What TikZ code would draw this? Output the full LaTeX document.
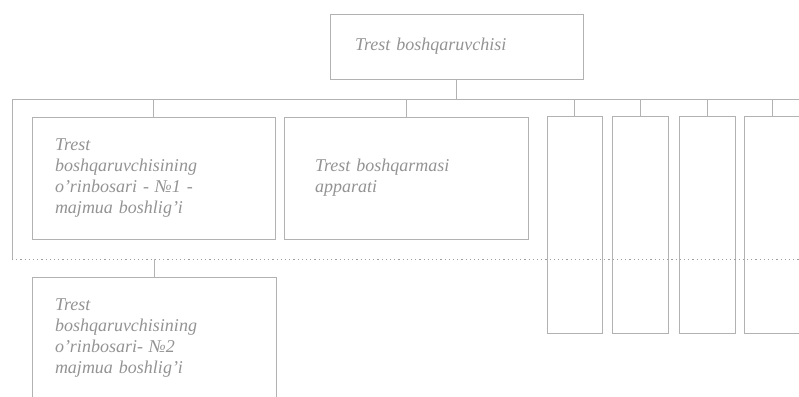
\documentclass[tikz,border=0pt]{standalone}
\usepackage{fontspec}
\setmainfont{Liberation Serif}
\tikzset{
 orgbox/.style={draw=gray!60, line width=0.7pt, inner ysep=0pt, align=left,
  font=\fontsize{18}{21}\selectfont\itshape, text=gray!85},
 slotbox/.style={draw=gray!60, line width=0.7pt, minimum width=56pt, minimum height=217pt, inner sep=0pt},
 link/.style={draw=gray!60, line width=0.7pt}
}
\begin{document}
\begin{tikzpicture}[x=1pt,y=-1pt]
 \useasboundingbox (0,0) rectangle (799,396);
 % top
 \node[orgbox, minimum width=253pt, minimum height=65pt, inner xsep=25pt, text width=203pt] (boss) at (456.5,46.5) {Trest boshqaruvchisi};
 \coordinate (busL) at (12,99);
 \coordinate (busR) at (799,99);
 \coordinate (dotL) at (12,259);
 \coordinate (dotR) at (799,259);
 % first row
 \node[orgbox, minimum width=243pt, minimum height=122pt, inner xsep=23pt, text width=197pt] (dep1) at (153.5,178) {Trest\\boshqaruvchisining\\o'rinbosari - №1 -\\majmua boshlig'i};
 \node[orgbox, minimum width=244pt, minimum height=122pt, inner xsep=31pt, text width=182pt] (appar) at (406,178) {Trest boshqarmasi\\apparati};
 \node[slotbox, minimum width=55pt] (s1) at (574.5,224.5) {};
 \node[slotbox] (s2) at (640,224.5) {};
 \node[slotbox] (s3) at (707,224.5) {};
 \node[slotbox] (s4) at (772,224.5) {};
 % second row
 \node[orgbox, minimum width=244pt, minimum height=122pt, inner xsep=23pt, text width=198pt] (dep2) at (154,338) {Trest\\boshqaruvchisining\\o'rinbosari- №2\\majmua boshlig'i};
 % connectors
 \draw[link] (boss.south) -- (boss.south |- busL);
 \draw[link] (busL) -- (busR);
 \foreach \n in {dep1,appar,s1,s2,s3,s4}
  \draw[link] (\n.north) -- (\n.north |- busL);
 \draw[link] (busL) -- (dotL);
 \draw[link, draw=gray!75, line width=1pt, dash pattern=on 1.2pt off 3pt] (dotL) -- (dotR);
 \draw[link] (dep2.north) -- (dep2.north |- dotL);
\end{tikzpicture}
\end{document}
